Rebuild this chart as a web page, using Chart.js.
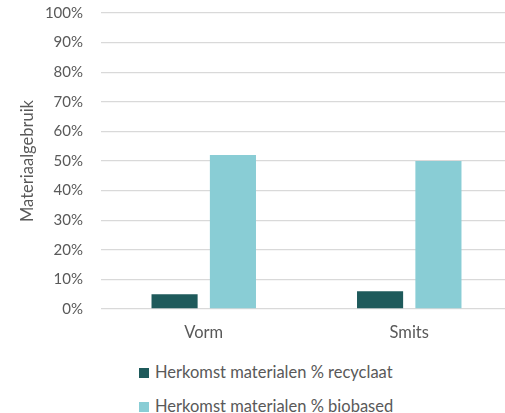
<!DOCTYPE html>
<html>
<head>
<meta charset="utf-8">
<script src="https://cdn.jsdelivr.net/npm/chart.js@4"></script>
<style>
  html, body { margin: 0; padding: 0; background: #fff; overflow: hidden; }
  #wrap { position: relative; width: 512px; height: 413px; }
  #chart { position: absolute; left: 0; top: -14px; }
  .legend { position: absolute; left: 139px; top: 0; font-family: Lato, sans-serif; font-size: 16.5px; color: #595959; }
  .legend .row { position: absolute; left: 0; white-space: nowrap; line-height: 20px; }
  .legend .sw { display: inline-block; width: 10px; height: 10px; margin-right: 6px; vertical-align: 0px; }
</style>
</head>
<body>
<div id="wrap">
  <canvas id="chart" width="512" height="364"></canvas>
  <div class="legend" id="legend"></div>
</div>
<script>
// categorieen en waarden (in %)
const categories = ['Vorm', 'Smits'];
const recyclaat = [5, 6];
const biobased = [52, 50];
const seriesNames = ['Herkomst materialen % recyclaat', 'Herkomst materialen % biobased'];
const seriesColors = ['#1E5A5B', '#89CDD5'];

const font = 'Lato, sans-serif';
const grey = '#595959';

const ctx = document.getElementById('chart').getContext('2d');
const chart = new Chart(ctx, {
    type: 'bar',
    data: {
        labels: categories,
        datasets: [
            {
                label: seriesNames[0],
                data: recyclaat,
                backgroundColor: seriesColors[0],
                barPercentage: 0.79,
                categoryPercentage: 0.568
            },
            {
                label: seriesNames[1],
                data: biobased,
                backgroundColor: seriesColors[1],
                barPercentage: 0.79,
                categoryPercentage: 0.568
            }
        ]
    },
    options: {
        responsive: false,
        animation: false,
        layout: { padding: 0 },
        plugins: {
            legend: { display: false },
            tooltip: { enabled: false }
        },
        scales: {
            x: {
                afterFit: function(scale) { scale.height = 41; },
                grid: { display: false },
                border: { display: false },
                ticks: {
                    color: grey,
                    padding: 6,
                    font: { family: font, size: 16.5 }
                }
            },
            y: {
                min: 0,
                max: 100,
                afterFit: function(scale) { scale.width = 101; },
                grid: { color: '#D9D9D9', lineWidth: 1.3, drawTicks: false },
                border: { display: false },
                ticks: {
                    stepSize: 10,
                    color: grey,
                    padding: 18,
                    font: { family: font, size: 15 },
                    callback: function(value) { return value + '%'; }
                },
                title: {
                    display: true,
                    text: 'Materiaalgebruik',
                    color: grey,
                    padding: { top: 18, bottom: 0 },
                    font: { family: font, size: 16.5 }
                }
            }
        }
    }
});

// legenda onder de grafiek, twee regels
const legendEl = document.getElementById('legend');
const rowTops = [362, 396];
chart.data.datasets.forEach((ds, i) => {
    const row = document.createElement('div');
    row.className = 'row';
    row.style.top = rowTops[i] + 'px';
    const sw = document.createElement('span');
    sw.className = 'sw';
    sw.style.background = ds.backgroundColor;
    row.appendChild(sw);
    row.appendChild(document.createTextNode(ds.label));
    legendEl.appendChild(row);
});
</script>
</body>
</html>
